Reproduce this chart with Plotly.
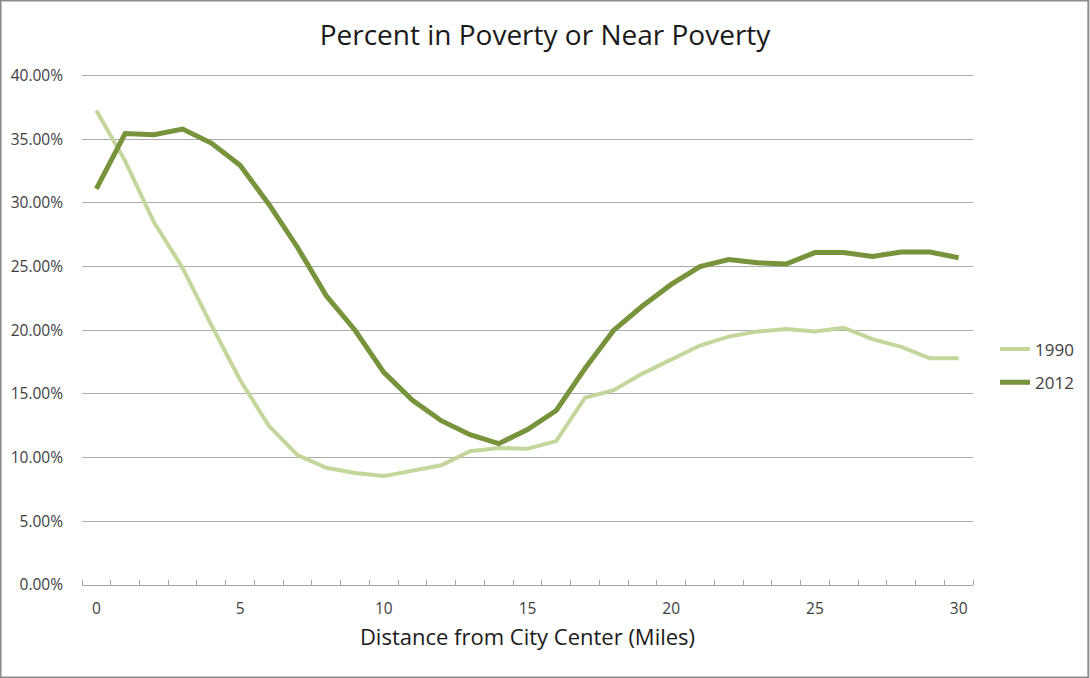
import plotly.graph_objects as go

miles = list(range(0, 31))
pct_1990 = [37.25, 33.3, 28.5, 24.9, 20.4, 16.1, 12.5, 10.2, 9.2, 8.8, 8.55,
            9.0, 9.4, 10.5, 10.75, 10.7, 11.3, 14.7, 15.3, 16.6, 17.7,
            18.8, 19.5, 19.9, 20.1, 19.9, 20.2, 19.3, 18.7, 17.8, 17.8]
pct_2012 = [31.1, 35.45, 35.35, 35.8, 34.7, 32.95, 29.9, 26.5, 22.7, 20.0, 16.7,
            14.5, 12.9, 11.8, 11.1, 12.2, 13.7, 17.0, 20.0, 21.9, 23.6,
            25.0, 25.55, 25.3, 25.2, 26.1, 26.1, 25.8, 26.15, 26.15, 25.7]
names = ["1990", "2012"]
colors = ["#C3D69B", "#77933C"]
widths = [4, 5]

W, H = 1090, 678
ml, mr, mt, mb = 82, 116, 73, 93
pw, ph = W - ml - mr, H - mt - mb

fig = go.Figure()
for name, vals, c, w in zip(names, [pct_1990, pct_2012], colors, widths):
    fig.add_trace(go.Scatter(
        x=miles, y=[v / 100 for v in vals], mode="lines", name=name,
        legendgroup=name,
        line=dict(color=c, width=w), hoverinfo="skip"))

fig.update_layout(
    width=W, height=H,
    margin=dict(l=ml, r=mr, t=mt, b=mb),
    paper_bgcolor="white", plot_bgcolor="white",
    font=dict(family="Open Sans, Noto Sans, sans-serif", color="#404040"),
    title=dict(text="Percent in Poverty or Near Poverty", x=0.5, xanchor="center",
               y=1 - 35 / H, yanchor="middle",
               font=dict(size=28, color="#1a1a1a")),
    showlegend=True,
    legend=dict(x=(995 - ml) / pw, xanchor="left", y=(585 - 366) / ph, yanchor="middle",
                font=dict(size=17, color="#404040"), bgcolor="rgba(0,0,0,0)",
                itemwidth=30, tracegroupgap=8),
    xaxis=dict(range=[-0.5, 30.5], tickmode="array", tickvals=[0, 5, 10, 15, 20, 25, 30],
               ticks="", showgrid=False, zeroline=False, showline=True,
               linecolor="#A6A6A6", linewidth=1,
               tickfont=dict(size=15.5, color="#404040"), ticklabelstandoff=9,
               minor=dict(tick0=-0.5, dtick=1, ticks="inside", ticklen=5,
                          tickcolor="#A6A6A6", showgrid=False),
               title=dict(text="Distance from City Center (Miles)",
                          font=dict(size=22, color="#1a1a1a"), standoff=12)),
    yaxis=dict(range=[0, 0.402], tickmode="array",
               tickvals=[0, 0.05, 0.10, 0.15, 0.20, 0.25, 0.30, 0.35, 0.40],
               tickformat=".2%", showgrid=True, gridcolor="#ABABAB", gridwidth=1,
               zeroline=False, showline=False, ticks="",
               tickfont=dict(size=15.5, color="#404040"), ticklabelstandoff=18),
    shapes=[dict(type="rect", xref="paper", yref="paper",
                 x0=-ml / pw + 0.5 / pw, x1=(W - ml - 0.5) / pw,
                 y0=-mb / ph + 0.5 / ph, y1=(H - mb - 0.5) / ph,
                 line=dict(color="#8C8C8C", width=2), layer="below")],
)

fig.write_html("out.html")
